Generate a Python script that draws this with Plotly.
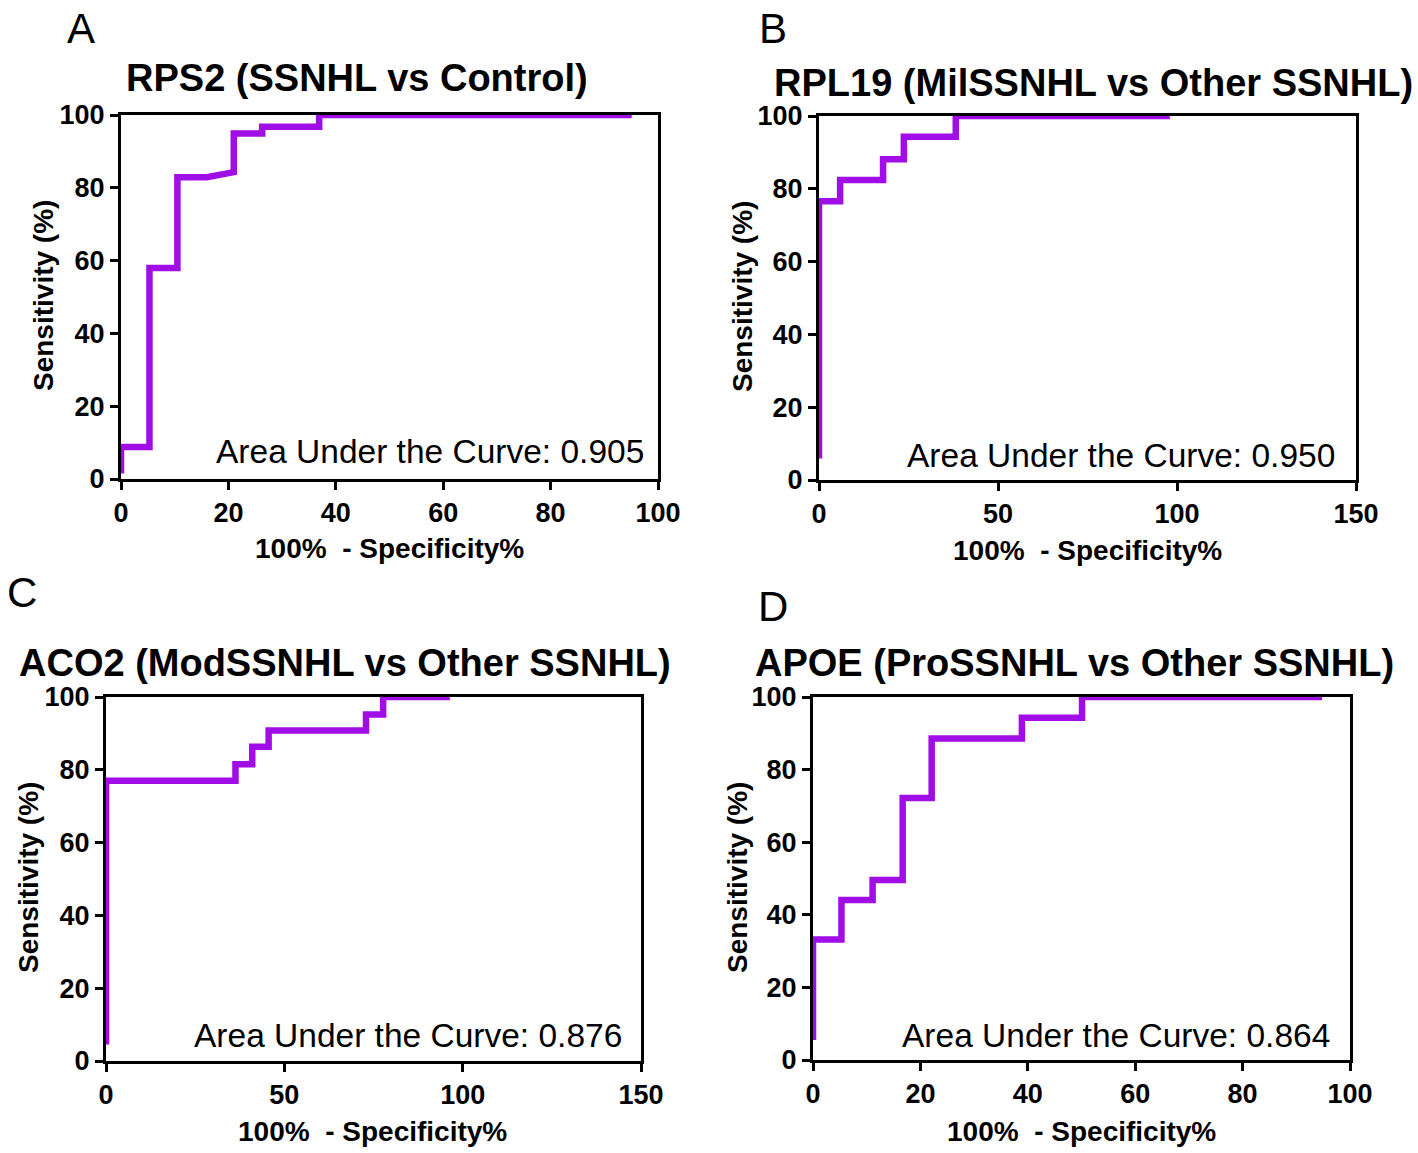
import plotly.graph_objects as go

# ---------------- data ----------------
a_fpr = [0, 0, 5.3, 5.3, 10.5, 10.5, 16.0, 21.0, 21.0, 26.3, 26.3, 36.9, 36.9, 95.1]
a_sens = [1.5, 8.8, 8.8, 58.0, 58.0, 82.9, 82.9, 84.3, 94.9, 94.9, 96.8, 96.8, 100, 100]

b_fpr = [0, 0, 5.9, 5.9, 17.9, 17.9, 23.7, 23.7, 38.2, 38.2, 98.0]
b_sens = [5.9, 76.6, 76.6, 82.4, 82.4, 88.1, 88.1, 94.3, 94.3, 100, 100]

c_fpr = [0, 0, 36.3, 36.3, 41.0, 41.0, 45.6, 45.6, 72.9, 72.9, 77.7, 77.7, 96.4]
c_sens = [4.5, 77.0, 77.0, 81.5, 81.5, 86.3, 86.3, 90.8, 90.8, 95.2, 95.2, 100, 100]

d_fpr = [0, 0, 5.3, 5.3, 11.1, 11.1, 16.7, 16.7, 22.1, 22.1, 38.9, 38.9, 50.1, 50.1, 94.8]
d_sens = [5.5, 33.2, 33.2, 44.1, 44.1, 49.6, 49.6, 72.2, 72.2, 88.6, 88.6, 94.3, 94.3, 100, 100]

panel_letters = ["A", "B", "C", "D"]
panel_titles = ["RPS2 (SSNHL vs Control)", "RPL19 (MilSSNHL vs Other SSNHL)",
                "ACO2 (ModSSNHL vs Other SSNHL)", "APOE (ProSSNHL vs Other SSNHL)"]
auc_values = ["0.905", "0.950", "0.876", "0.864"]
x_max = [100, 150, 150, 100]
x_dtick = [20, 50, 50, 20]
y_ticks = [0, 20, 40, 60, 80, 100]
x_title = "100%  - Specificity%"
y_title = "Sensitivity (%)"

series = [(a_fpr, a_sens), (b_fpr, b_sens), (c_fpr, c_sens), (d_fpr, d_sens)]

# ---------------- layout geometry (pixels, reference picture) ----------------
W, H = 1418, 1153
boxes = [(121, 658, 115, 479), (819, 1356, 116, 480), (106, 641, 697, 1061), (813, 1350, 697, 1060)]
letter_pos = [(81, 28), (773, 28), (22, 592), (773, 606)]
title_pos = [(357, 78), (1093, 83), (345, 663), (1074, 663)]
ytitle_pos = [(43, 296), (742, 297), (28, 878), (737, 878)]
xtitle_pos = [(389, 548), (1087, 550), (373, 1131), (1081, 1131)]
auc_pos = [(646, 452), (1337, 455), (624, 1035), (1332, 1035)]

FONT = "Liberation Sans, Arial, sans-serif"
PURPLE = "#A10DE6"

def px(x):
    return x / W

def py(y):
    return 1 - y / H

fig = go.Figure()
annotations = []
for i, (fx, sy) in enumerate(series):
    n = "" if i == 0 else str(i + 1)
    fig.add_trace(go.Scatter(x=fx, y=sy, mode="lines", xaxis="x" + n, yaxis="y" + n,
                             line=dict(color=PURPLE, width=6.5), showlegend=False,
                             cliponaxis=False, hoverinfo="skip"))
    x0, x1, y0, y1 = boxes[i]
    common = dict(showline=True, linecolor="black", linewidth=3, mirror=True,
                  ticks="outside", ticklen=8, tickwidth=3, tickcolor="black",
                  showgrid=False, zeroline=False, automargin=False,
                  tickfont=dict(family=FONT, size=27, color="black", weight="bold"))
    fig.update_layout(**{
        "xaxis" + n: dict(domain=[px(x0), px(x1)], range=[0, x_max[i]], dtick=x_dtick[i],
                          tick0=0, anchor="y" + n, **common),
        "yaxis" + n: dict(domain=[py(y1), py(y0)], range=[0, 100], tickvals=y_ticks,
                          anchor="x" + n, **common),
    })
    lx, ly = letter_pos[i]
    annotations.append(dict(text=panel_letters[i], x=px(lx), y=py(ly), xref="paper", yref="paper",
                            xanchor="center", yanchor="middle", showarrow=False, borderpad=0,
                            font=dict(family=FONT, size=42, color="black")))
    tx, ty = title_pos[i]
    annotations.append(dict(text=panel_titles[i], x=px(tx), y=py(ty), xref="paper", yref="paper",
                            xanchor="center", yanchor="middle", showarrow=False,
                            font=dict(family=FONT, size=38, color="black", weight="bold")))
    yx, yy = ytitle_pos[i]
    annotations.append(dict(text=y_title, x=px(yx), y=py(yy), xref="paper", yref="paper",
                            xanchor="center", yanchor="middle", showarrow=False, textangle=-90,
                            font=dict(family=FONT, size=28, color="black", weight="bold")))
    xx, xy = xtitle_pos[i]
    annotations.append(dict(text=x_title, x=px(xx), y=py(xy), xref="paper", yref="paper",
                            xanchor="center", yanchor="middle", showarrow=False,
                            font=dict(family=FONT, size=28, color="black", weight="bold")))
    ax, ay = auc_pos[i]
    annotations.append(dict(text="Area Under the Curve: " + auc_values[i], x=px(ax), y=py(ay),
                            xref="paper", yref="paper", xanchor="right", yanchor="middle",
                            showarrow=False, font=dict(family=FONT, size=33.5, color="black")))

fig.update_layout(width=W, height=H, margin=dict(l=0, r=0, t=0, b=0, autoexpand=False),
                  paper_bgcolor="white", plot_bgcolor="white",
                  annotations=annotations)
fig.write_html("out.html", config={"displayModeBar": False},
               post_script="document.body.style.margin='0px';")
